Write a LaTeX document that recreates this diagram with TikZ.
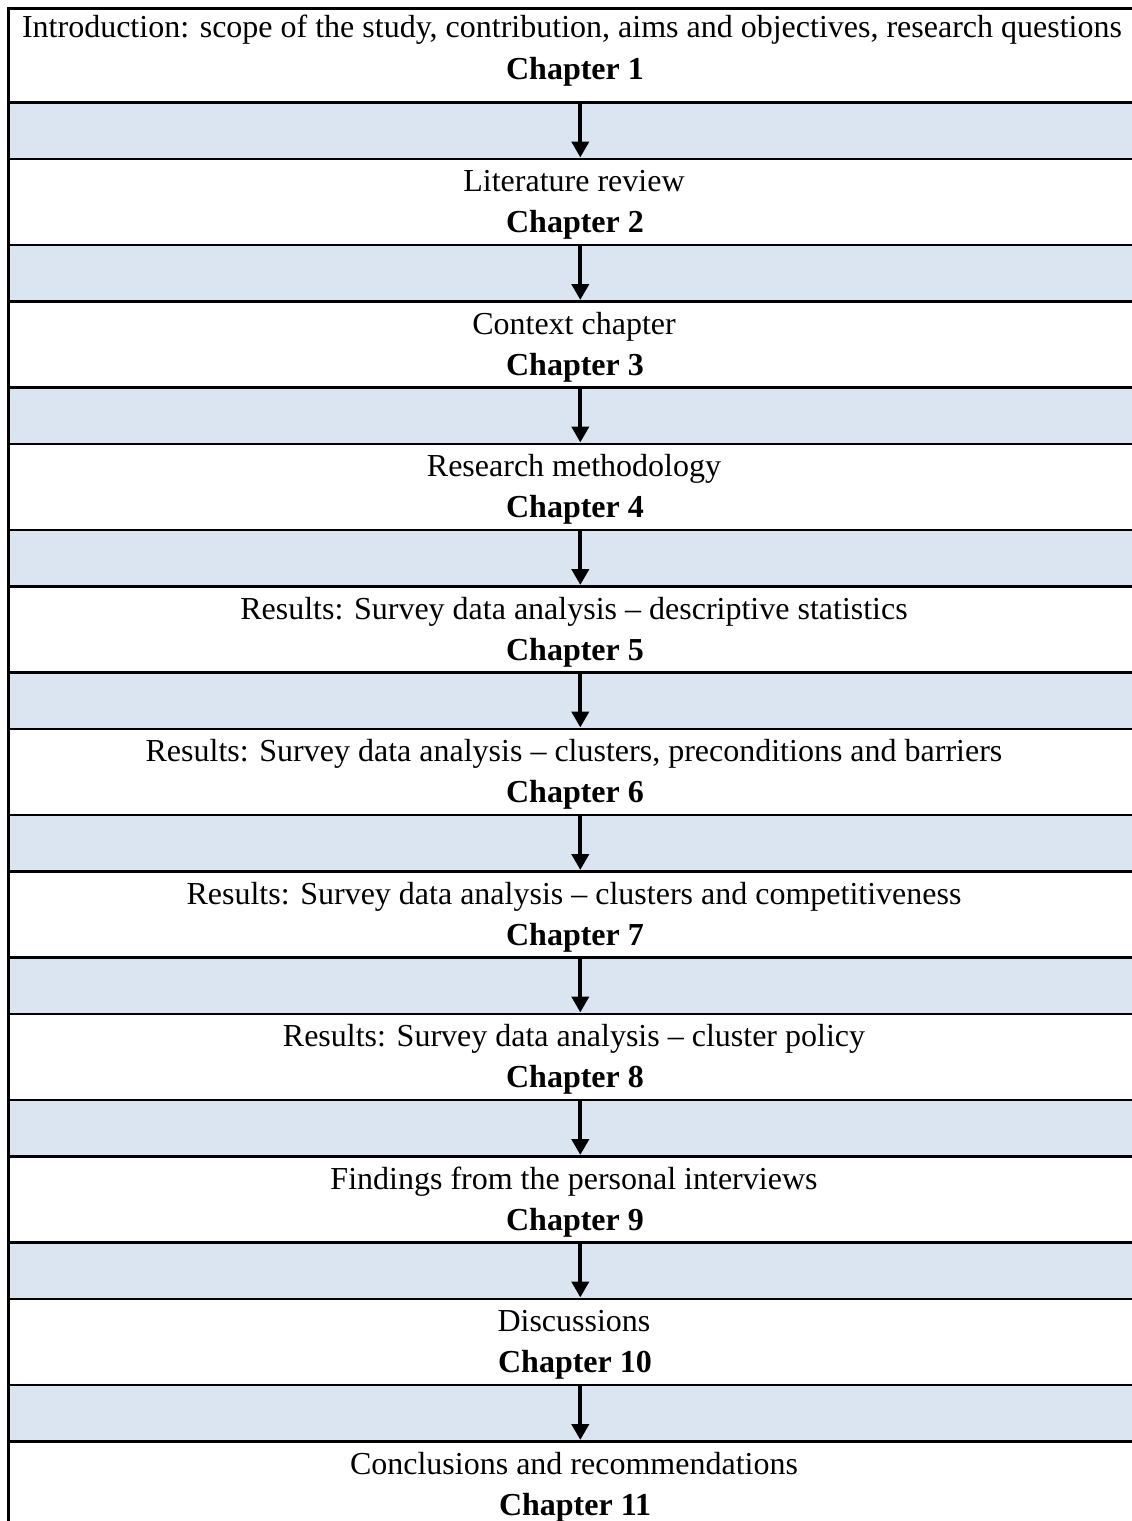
\documentclass[tikz,border=0pt]{standalone}
\usepackage{fontspec}
\setmainfont{Liberation Serif}
\usetikzlibrary{arrows.meta}
\definecolor{bandblue}{HTML}{DBE5F1}
\begin{document}
\begin{tikzpicture}[x=1pt,y=-1pt,
  cell/.style={draw=black, line width=2.6pt, fill=white, rectangle,
    inner sep=0pt, minimum width=1144pt, anchor=north west},
  band/.style={cell, fill=bandblue, minimum height=56.5pt},
  topic/.style={font=\fontsize{32}{38}\selectfont, anchor=base, inner sep=0pt},
  chap/.style={font=\fontsize{32}{38}\selectfont\bfseries, anchor=base, inner sep=0pt},
  flow/.style={line width=4pt, -{Triangle[width=17pt,length=16pt]}}
]
\useasboundingbox (0,0) rectangle (1132,1521);
\clip (0,0) rectangle (1132,1521);

% chapter rows and the shaded bands between them
\node[cell, minimum height=94pt] (r1) at (7,7) {};
\foreach \i in {1,...,10} {
  \pgfmathsetmacro\bt{101+(\i-1)*142.5}
  \node[band] (b\i) at (7,\bt) {};
}
\foreach \i in {2,...,11} {
  \pgfmathsetmacro\rt{157.5+(\i-2)*142.5}
  \node[cell, minimum height=86pt] (r\i) at (7,\rt) {};
}

% row texts
\node[topic] (t1) at (572,37) {Introduction: scope of the study, contribution, aims and objectives, research questions};
\node[chap] (c1) at (575,79) {Chapter 1};
\foreach \i/\txt in {
  2/Literature review,
  3/Context chapter,
  4/Research methodology,
  5/Results: Survey data analysis – descriptive statistics,
  6/{Results: Survey data analysis – clusters, preconditions and barriers},
  7/Results: Survey data analysis – clusters and competitiveness,
  8/Results: Survey data analysis – cluster policy,
  9/Findings from the personal interviews,
  10/Discussions,
  11/Conclusions and recommendations} {
  \pgfmathsetmacro\ya{157.5+(\i-2)*142.5+34}
  \pgfmathsetmacro\yb{157.5+(\i-2)*142.5+75}
  \node[topic] (t\i) at (574,\ya) {\txt};
  \node[chap] (c\i) at (575,\yb) {Chapter \i};
}

% arrows from each chapter to the next
\foreach \i [evaluate=\i as \j using int(\i+1)] in {1,...,10}
  \draw[flow] (r\i.south) -- (r\j.north);
\end{tikzpicture}
\end{document}
